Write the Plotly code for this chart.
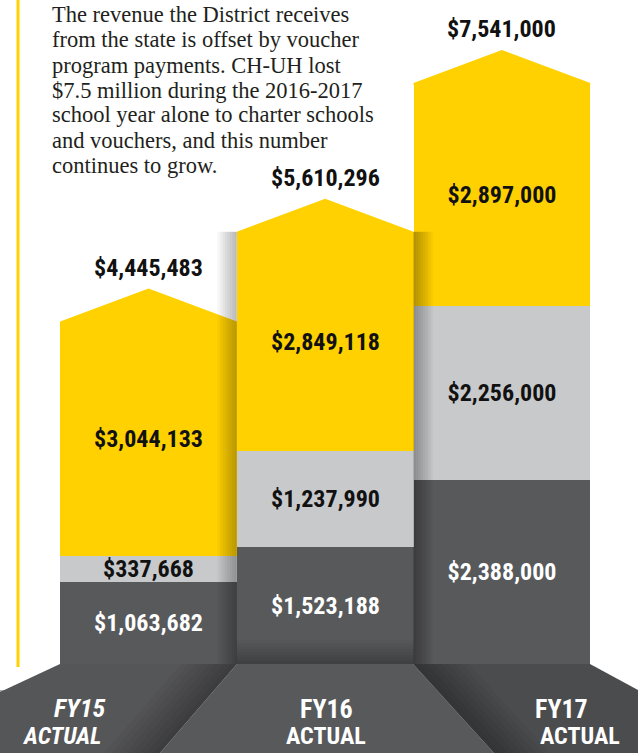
import plotly.graph_objects as go

# ---------------- data ----------------
years = ["FY15", "FY16", "FY17"]
year_sub = ["ACTUAL", "ACTUAL", "ACTUAL"]
dark_vals = [1063682, 1523188, 2388000]
gray_vals = [337668, 1237990, 2256000]
yellow_vals = [3044133, 2849118, 2897000]
totals = [4445483, 5610296, 7541000]
paragraph = [
    "The revenue the District receives",
    "from the state is offset by voucher",
    "program payments. CH-UH lost",
    "$7.5 million during the 2016-2017",
    "school year alone to charter schools",
    "and vouchers, and this number",
    "continues to grow.",
]

# ---------------- styling / geometry ----------------
W, H = 638, 753
YELLOW = "#FFD100"
LGRAY = "#C8C9CB"
DGRAY = "#58595B"
NUM_FONT = "Liberation Sans Narrow, Roboto Condensed, DejaVu Sans Condensed, Arial Narrow, sans-serif"
SERIF = "Liberation Serif, DejaVu Serif, serif"

UX = 176.7            # px per category unit
X0 = 148.5            # px of first bar center
BASE_PX = 664         # px of value 0
S = (BASE_PX - 83) / 7541000.0   # px per dollar
CAP = 33 / S          # arrow cap height (data units)

xr = [-X0 / UX, (W - X0) / UX]
yr = [-(H - BASE_PX) / S, BASE_PX / S]

def fmt(v):
    return "${:,}".format(v)

def P(px, py):
    return px / W, 1 - py / H

def path(pts):
    s = ""
    for i, (a, b) in enumerate(pts):
        x, y = P(a, b)
        s += ("M" if i == 0 else "L") + f"{x:.5f},{y:.5f} "
    return s + "Z"

xs = list(range(len(years)))
fig = go.Figure()

def bar(vals, color, tcolor):
    fig.add_trace(go.Bar(
        x=xs, y=vals, width=1, marker=dict(color=color, line=dict(width=0)),
        text=[fmt(v) for v in vals], textposition="inside", insidetextanchor="middle",
        textangle=0, constraintext="none",
        textfont=dict(family=NUM_FONT, size=24, color=tcolor, weight="bold"),
        hoverinfo="skip", showlegend=False))

bar(dark_vals, DGRAY, "white")
bar(gray_vals, LGRAY, "#111111")
bar(yellow_vals, YELLOW, "#111111")

# arrow caps
eps = 2 / S
for i, t in enumerate(totals):
    fig.add_trace(go.Scatter(
        x=[i - 0.5, i, i + 0.5, i + 0.5, i - 0.5, i - 0.5],
        y=[t, t + CAP, t, t - eps, t - eps, t],
        fill="toself", fillcolor=YELLOW, mode="lines", line=dict(width=0),
        hoverinfo="skip", showlegend=False))

shapes = []

# platform
shapes.append(dict(type="path", xref="paper", yref="paper", layer="below",
                   path=path([(60, 664), (237, 664), (160, 753), (0, 753), (0, 692)]),
                   fillcolor="#555658", line=dict(width=0)))
shapes.append(dict(type="path", xref="paper", yref="paper", layer="below",
                   path=path([(237, 664), (413, 664), (494, 753), (160, 753)]),
                   fillcolor=DGRAY, line=dict(width=0)))
shapes.append(dict(type="path", xref="paper", yref="paper", layer="below",
                   path=path([(413, 664), (590, 664), (638, 690), (638, 753), (494, 753)]),
                   fillcolor="#4B4C4E", line=dict(width=0)))
# platform shading near the middle section
for k in range(1, 9):
    d = 7 * k
    shapes.append(dict(type="path", xref="paper", yref="paper", layer="below",
                       path=path([(237 - d, 664), (237, 664), (160, 753), (160 - d, 753)]),
                       fillcolor="black", opacity=0.035, line=dict(width=0)))
    shapes.append(dict(type="path", xref="paper", yref="paper", layer="below",
                       path=path([(413, 664), (413 + d, 664), (494 + d, 753), (494, 753)]),
                       fillcolor="black", opacity=0.035, line=dict(width=0)))

# shadows cast by the middle bar on its neighbours
dx = 2.4 / UX
for k in range(1, 9):
    shapes.append(dict(type="rect", xref="x", yref="y", x0=0.5 - k * dx, x1=0.5,
                       y0=0, y1=totals[1], fillcolor="black", opacity=0.035, line=dict(width=0)))
    shapes.append(dict(type="rect", xref="x", yref="y", x0=1.5, x1=1.5 + k * dx,
                       y0=0, y1=totals[1], fillcolor="black", opacity=0.04, line=dict(width=0)))
# bottom shading of middle bar
dy = 3 / S
for k in range(1, 9):
    shapes.append(dict(type="rect", xref="x", yref="y", x0=0.5, x1=1.5,
                       y0=0, y1=k * dy, fillcolor="black", opacity=0.03, line=dict(width=0)))

# yellow vertical rule and small rule
x18 = 18 / W
shapes.append(dict(type="line", xref="paper", yref="paper", x0=x18, x1=x18,
                   y0=1, y1=1 - 667 / H, line=dict(color=YELLOW, width=3)))
shapes.append(dict(type="line", xref="paper", yref="paper", x0=0, x1=10 / W,
                   y0=1 - 691 / H, y1=1 - 691 / H, line=dict(color="#58595B", width=1)))

annotations = []
# totals above arrows
for i, t in enumerate(totals):
    annotations.append(dict(x=i, y=t + CAP, xref="x", yref="y", text=fmt(t),
                            showarrow=False, xanchor="center", yanchor="bottom", yshift=5,
                            font=dict(family=NUM_FONT, size=24, color="#111111", weight="bold")))
# paragraph
for k, line in enumerate(paragraph):
    yc = 15 + 25 * k
    annotations.append(dict(x=50 / W, y=1 - yc / H, xref="paper", yref="paper",
                            text=line, showarrow=False, xanchor="left", yanchor="middle",
                            font=dict(family=SERIF, size=22.5, color="#231F20")))
# year labels on platform
yr_pos = [(80, 708, 62, 736, "italic"), (326, 709, 326, 736, "normal"), (561, 709, 580, 736, "normal")]
for i, (ax, ay, bx, by, st) in enumerate(yr_pos):
    annotations.append(dict(x=ax / W, y=1 - ay / H, xref="paper", yref="paper", text=years[i],
                            showarrow=False, xanchor="center", yanchor="middle",
                            font=dict(family=NUM_FONT, size=26, color="white",
                                      weight="bold", style=st)))
    annotations.append(dict(x=bx / W, y=1 - by / H, xref="paper", yref="paper", text=year_sub[i],
                            showarrow=False, xanchor="center", yanchor="middle",
                            font=dict(family=NUM_FONT, size=24, color="white",
                                      weight="bold", style=st)))

fig.update_layout(
    width=W, height=H, autosize=False,
    margin=dict(l=0, r=0, t=0, b=0, pad=0),
    paper_bgcolor="white", plot_bgcolor="rgba(0,0,0,0)",
    barmode="stack", bargap=0,
    xaxis=dict(range=xr, visible=False, fixedrange=True),
    yaxis=dict(range=yr, visible=False, fixedrange=True),
    shapes=shapes, annotations=annotations, showlegend=False,
)

fig.write_html("out.html", config={"displayModeBar": False},
               post_script="document.body.style.margin='0';document.body.style.overflow='hidden';")
